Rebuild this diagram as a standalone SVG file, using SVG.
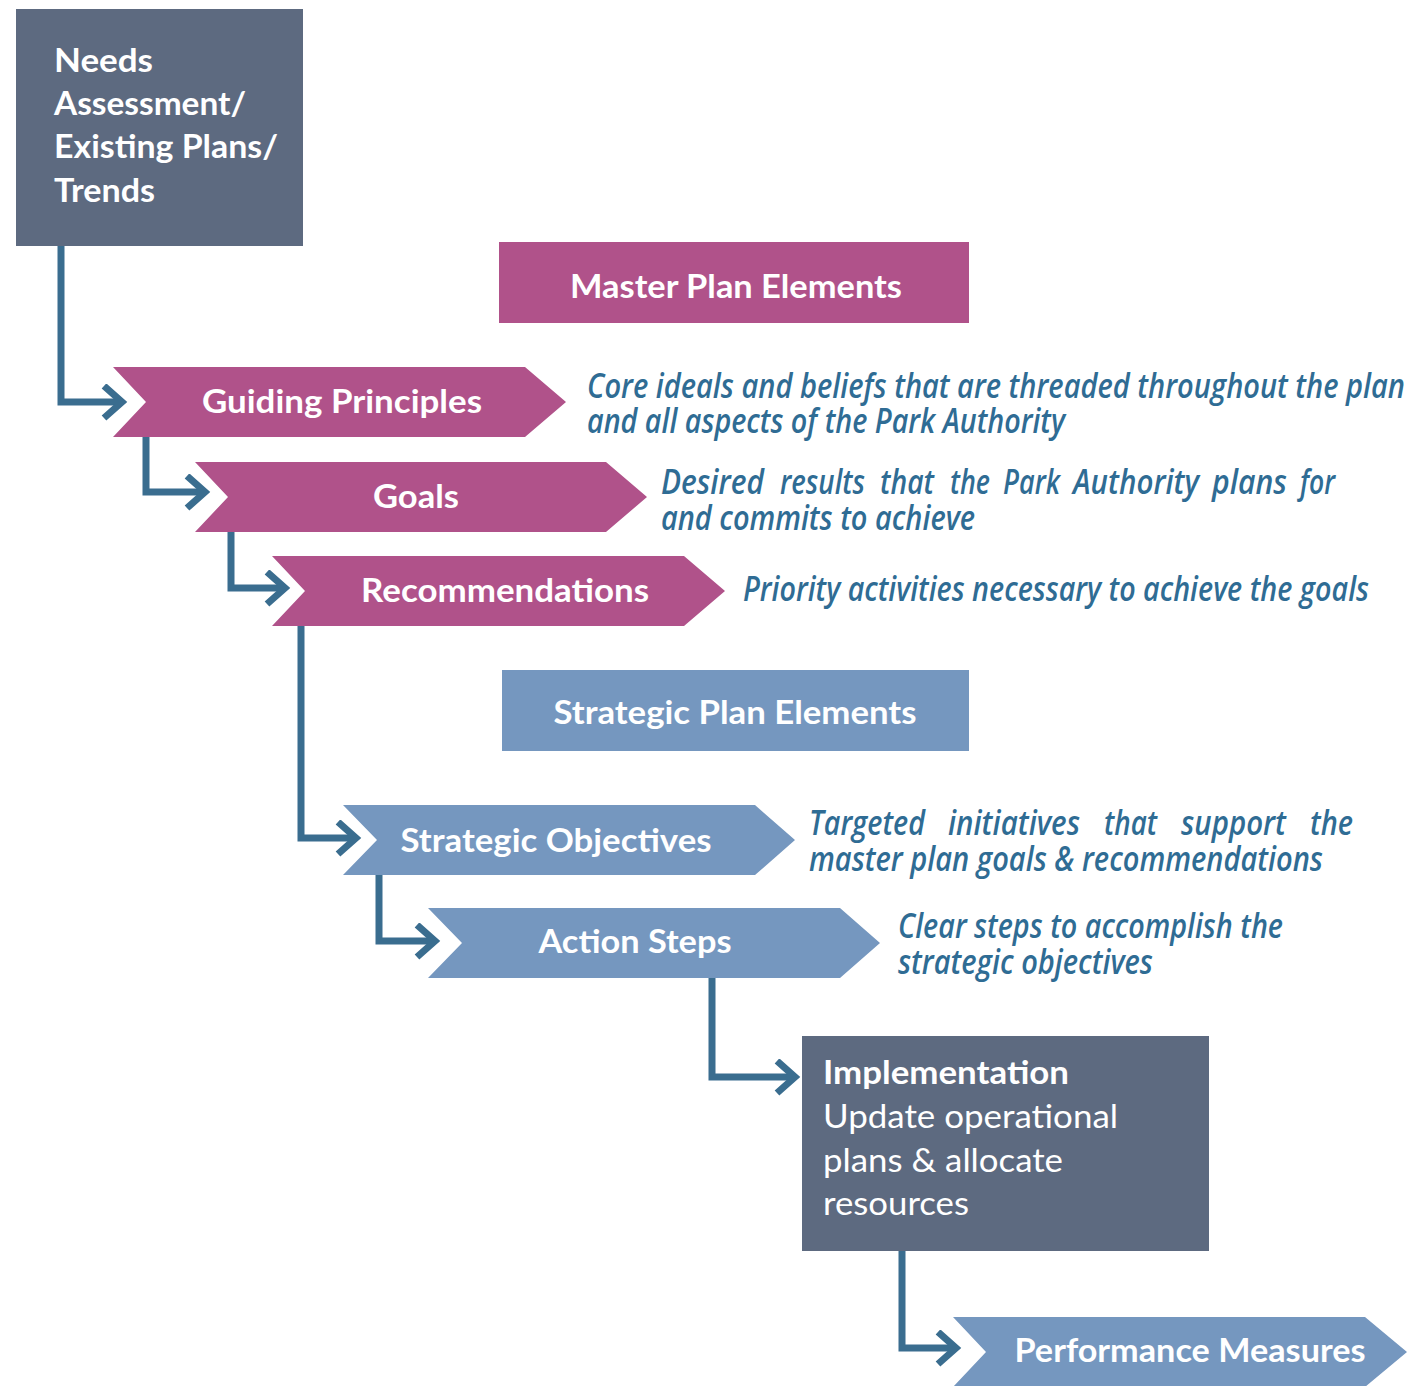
<svg xmlns="http://www.w3.org/2000/svg" width="1421" height="1386" viewBox="0 0 1421 1386">
<defs>
<style>
.dark{fill:#5d6a80}
.mag{fill:#b0528a}
.blue{fill:#7597bf}
.lbl{font-family:Lato,"Open Sans",sans-serif;font-weight:bold;font-size:33px;fill:#ffffff;text-anchor:middle}
.box{font-family:Lato,"Open Sans",sans-serif;font-size:33px;fill:#ffffff}
.desc{font-family:"Open Sans","DejaVu Sans",sans-serif;font-style:italic;font-weight:600;font-size:35px;fill:#2f6c94}
.conn path{fill:none;stroke:#3a6d8f;stroke-width:7}
</style>
<marker id="ah" markerUnits="userSpaceOnUse" markerWidth="30" markerHeight="40" refX="22" refY="18" orient="auto" viewBox="0 0 30 40">
<path d="M4,2 L22,18 L4,34" fill="none" stroke="#3a6d8f" stroke-width="7"/>
</marker>
</defs>
<rect width="1421" height="1386" fill="#ffffff"/>

<g id="needs">
<rect class="dark" x="16" y="9" width="287" height="237"/>
<text class="box" font-weight="bold" x="54" y="72" textLength="99" lengthAdjust="spacingAndGlyphs">Needs</text>
<text class="box" font-weight="bold" x="54" y="115" textLength="192" lengthAdjust="spacingAndGlyphs">Assessment/</text>
<text class="box" font-weight="bold" x="54" y="158" textLength="224" lengthAdjust="spacingAndGlyphs">Existing Plans/</text>
<text class="box" font-weight="bold" x="54" y="202" textLength="101" lengthAdjust="spacingAndGlyphs">Trends</text>
</g>

<g id="master">
<rect class="mag" x="499" y="242" width="470" height="81"/>
<text class="lbl" x="736" y="298" textLength="332" lengthAdjust="spacingAndGlyphs">Master Plan Elements</text>
</g>

<g id="guiding">
<polygon class="mag" points="113,367 525,367 566,402 525,437 113,437 146,402"/>
<text class="lbl" x="342" y="413" textLength="280" lengthAdjust="spacingAndGlyphs">Guiding Principles</text>
</g>
<g id="goals">
<polygon class="mag" points="195,462 606,462 647,497 606,532 195,532 228,497"/>
<text class="lbl" x="416" y="508" textLength="86" lengthAdjust="spacingAndGlyphs">Goals</text>
</g>
<g id="recs">
<polygon class="mag" points="272,556 684,556 725,591 684,626 272,626 305,591"/>
<text class="lbl" x="505" y="602" textLength="288" lengthAdjust="spacingAndGlyphs">Recommendations</text>
</g>

<g id="strategic">
<rect class="blue" x="502" y="670" width="467" height="81"/>
<text class="lbl" x="735" y="724" textLength="363" lengthAdjust="spacingAndGlyphs">Strategic Plan Elements</text>
</g>

<g id="objectives">
<polygon class="blue" points="343,805 755,805 795,840 755,875 343,875 377,840"/>
<text class="lbl" x="556" y="852" textLength="311" lengthAdjust="spacingAndGlyphs">Strategic Objectives</text>
</g>
<g id="actions">
<polygon class="blue" points="428,908 840,908 880,943 840,978 428,978 462,943"/>
<text class="lbl" x="635" y="953" textLength="193" lengthAdjust="spacingAndGlyphs">Action Steps</text>
</g>

<g id="implementation">
<rect class="dark" x="802" y="1036" width="407" height="215"/>
<text class="box" font-weight="bold" x="823" y="1084" textLength="246" lengthAdjust="spacingAndGlyphs">Implementation</text>
<text class="box" x="823" y="1128" textLength="295" lengthAdjust="spacingAndGlyphs">Update operational</text>
<text class="box" x="823" y="1172" textLength="240" lengthAdjust="spacingAndGlyphs">plans &amp; allocate</text>
<text class="box" x="823" y="1215" textLength="146" lengthAdjust="spacingAndGlyphs">resources</text>
</g>

<g id="performance">
<polygon class="blue" points="953,1317 1365,1317 1407,1352 1365,1387 953,1387 986,1352"/>
<text class="lbl" x="1190" y="1362" textLength="351" lengthAdjust="spacingAndGlyphs">Performance Measures</text>
</g>

<g id="descriptions">
<text class="desc" x="587" y="398" textLength="818" lengthAdjust="spacingAndGlyphs">Core ideals and beliefs that are threaded throughout the plan</text>
<text class="desc" x="587" y="433" textLength="478" lengthAdjust="spacingAndGlyphs">and all aspects of the Park Authority</text>
<text class="desc" y="494"><tspan x="661" textLength="103" lengthAdjust="spacingAndGlyphs">Desired</tspan><tspan x="780" textLength="85" lengthAdjust="spacingAndGlyphs">results</tspan><tspan x="880" textLength="54" lengthAdjust="spacingAndGlyphs">that</tspan><tspan x="950" textLength="40" lengthAdjust="spacingAndGlyphs">the</tspan><tspan x="1003" textLength="57" lengthAdjust="spacingAndGlyphs">Park</tspan><tspan x="1073" textLength="126" lengthAdjust="spacingAndGlyphs">Authority</tspan><tspan x="1212" textLength="75" lengthAdjust="spacingAndGlyphs">plans</tspan><tspan x="1300" textLength="35" lengthAdjust="spacingAndGlyphs">for</tspan></text>
<text class="desc" x="661" y="530" textLength="314" lengthAdjust="spacingAndGlyphs">and commits to achieve</text>
<text class="desc" x="743" y="601" textLength="626" lengthAdjust="spacingAndGlyphs">Priority activities necessary to achieve the goals</text>
<text class="desc" y="835"><tspan x="809" textLength="116" lengthAdjust="spacingAndGlyphs">Targeted</tspan><tspan x="948" textLength="132" lengthAdjust="spacingAndGlyphs">initiatives</tspan><tspan x="1104" textLength="53" lengthAdjust="spacingAndGlyphs">that</tspan><tspan x="1181" textLength="105" lengthAdjust="spacingAndGlyphs">support</tspan><tspan x="1310" textLength="43" lengthAdjust="spacingAndGlyphs">the</tspan></text>
<text class="desc" x="809" y="871" textLength="514" lengthAdjust="spacingAndGlyphs">master plan goals &amp; recommendations</text>
<text class="desc" x="898" y="938" textLength="385" lengthAdjust="spacingAndGlyphs">Clear steps to accomplish the</text>
<text class="desc" x="898" y="974" textLength="255" lengthAdjust="spacingAndGlyphs">strategic objectives</text>
</g>

<g id="connectors" class="conn">
<path d="M61,246 V402 H122" marker-end="url(#ah)"/>
<path d="M146,437 V492 H205" marker-end="url(#ah)"/>
<path d="M231,532 V588 H285" marker-end="url(#ah)"/>
<path d="M301,626 V838 H356" marker-end="url(#ah)"/>
<path d="M379,875 V941 H435" marker-end="url(#ah)"/>
<path d="M712,978 V1077 H795" marker-end="url(#ah)"/>
<path d="M902,1251 V1348 H956" marker-end="url(#ah)"/>
</g>
</svg>
